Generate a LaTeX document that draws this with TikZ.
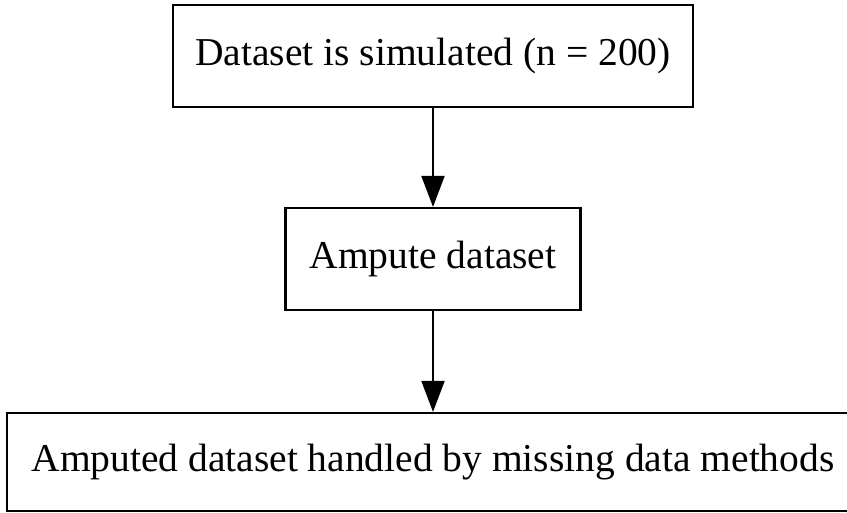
\documentclass[tikz,border=0pt]{standalone}
\usepackage{fontspec}
\setmainfont{Liberation Serif}
\usetikzlibrary{positioning, arrows.meta}

\begin{document}
\begin{tikzpicture}[
  x=1pt, y=1pt,
  base/.style={
    draw=black, line width=2.2pt,
    inner sep=0pt, align=center,
    font=\fontsize{39.5}{47}\selectfont,
  },
  stepbox/.style={base, minimum height=102pt},
  flowarr/.style={-{Triangle[length=31pt, width=23pt]}, line width=2pt},
]

% Column x-position
\def\cM{433}

% Row y-positions
\def\rI{-56}
\def\rII{-259}
\def\rIII{-462}

% ---- Canvas ----
\useasboundingbox (0,0) rectangle (847,-512);

% ---- Boxes ----
\node[stepbox, minimum width=520pt] (sim) at (\cM, \rI)
  {Dataset is simulated (n = 200)};
\node[stepbox, minimum width=295pt] (amp) at (\cM, \rII)
  {Ampute dataset};
\node[stepbox, minimum width=852pt, minimum height=98pt] (hdl) at (\cM, \rIII)
  {Amputed dataset handled by missing data methods};

% ---- Flow arrows ----
\draw[flowarr] (sim.south) -- (amp.north);
\draw[flowarr] (amp.south) -- (hdl.north);

\end{tikzpicture}
\end{document}
